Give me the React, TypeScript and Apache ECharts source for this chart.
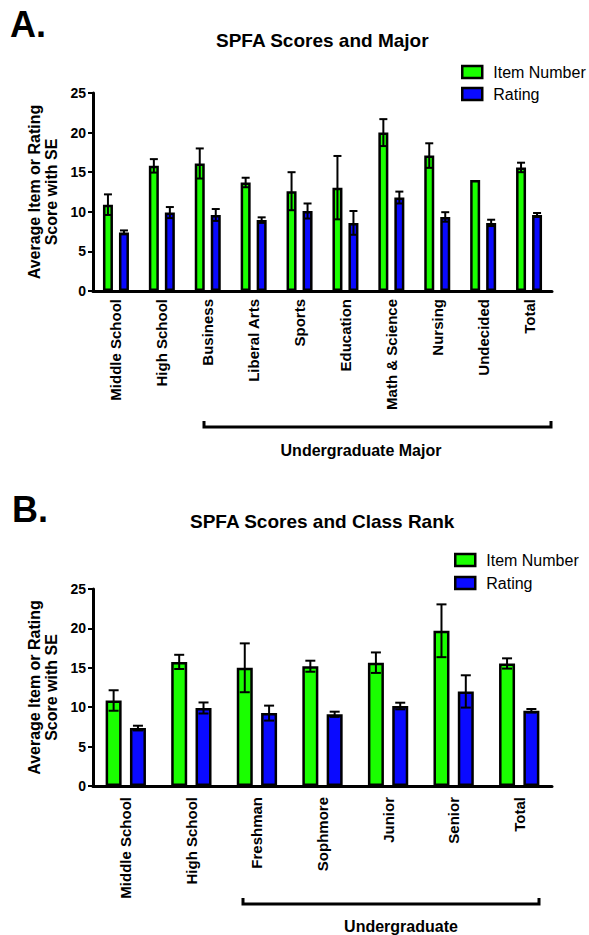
import React, { useEffect, useRef } from "react";
import * as echarts from "echarts";

// ---- Panel A data ----
const categoriesA = ["Middle School", "High School", "Business", "Liberal Arts", "Sports", "Education", "Math & Science", "Nursing", "Undecided", "Total"];
const itemA = [10.9, 15.8, 16.1, 13.7, 12.6, 13.05, 20.0, 17.1, 14.0, 15.6];
const itemSeA = [1.3, 0.85, 1.9, 0.6, 2.4, 4.0, 1.7, 1.55, 0, 0.6];
const ratingA = [7.4, 9.9, 9.6, 8.95, 10.1, 8.6, 11.8, 9.35, 8.6, 9.6];
const ratingSeA = [0.25, 0.7, 0.75, 0.35, 0.95, 1.5, 0.75, 0.6, 0.4, 0.25];

// ---- Panel B data ----
const categoriesB = ["Middle School", "High School", "Freshman", "Sophmore", "Junior", "Senior", "Total"];
const itemB = [10.85, 15.75, 15.0, 15.2, 15.65, 19.7, 15.55];
const itemSeB = [1.3, 0.9, 3.1, 0.7, 1.3, 3.35, 0.65];
const ratingB = [7.35, 9.9, 9.25, 9.1, 10.15, 12.0, 9.55];
const ratingSeB = [0.3, 0.7, 0.95, 0.33, 0.42, 2.05, 0.22];

const yTicks = [0, 5, 10, 15, 20, 25];
const seriesNames = ["Item Number", "Rating"];

const GREEN = "#1aff00";
const BLUE = "#0a0aff";
const FONT = "'Liberation Sans', Arial, Helvetica, sans-serif";

function errorSeries(axisIdx: number, values: number[], ses: number[], offset: number, cap: number) {
  return {
    type: "custom",
    xAxisIndex: axisIdx,
    yAxisIndex: axisIdx,
    silent: true,
    z: 5,
    encode: { x: 0, y: 1 },
    data: values.map((v, i) => [i, v, ses[i]]),
    renderItem: (params: any, api: any) => {
      const cat = api.value(0);
      const v = api.value(1);
      const se = api.value(2);
      if (!se) return null;
      const c = api.coord([cat, v]);
      const x = c[0] + offset;
      const yHi = api.coord([cat, v + se])[1];
      const yLo = api.coord([cat, v - se])[1];
      const st = { stroke: "#000", lineWidth: 2 };
      return {
        type: "group",
        children: [
          { type: "line", shape: { x1: x, y1: yHi, x2: x, y2: yLo }, style: st },
          { type: "line", shape: { x1: x - cap / 2, y1: yHi, x2: x + cap / 2, y2: yHi }, style: st },
          { type: "line", shape: { x1: x - cap / 2, y1: yLo, x2: x + cap / 2, y2: yLo }, style: st },
        ],
      };
    },
  };
}

function xAxisCfg(idx: number, cats: string[], margin: number) {
  return {
    type: "category",
    gridIndex: idx,
    data: cats,
    boundaryGap: true,
    axisLine: { lineStyle: { color: "#000", width: 3 } },
    axisTick: { alignWithLabel: true, length: 5, lineStyle: { color: "#000", width: 2 } },
    axisLabel: { rotate: 90, margin, color: "#000", fontWeight: "bold", fontSize: 15, fontFamily: FONT, interval: 0 },
    splitLine: { show: false },
  };
}

function yAxisCfg(idx: number) {
  return {
    type: "value",
    gridIndex: idx,
    min: yTicks[0],
    max: yTicks[yTicks.length - 1],
    interval: yTicks[1] - yTicks[0],
    name: "Average Item or Rating\nScore with SE",
    nameLocation: "middle",
    nameRotate: 90,
    nameGap: 33,
    nameTextStyle: { color: "#000", fontWeight: "bold", fontSize: 16, fontFamily: FONT, lineHeight: 17 },
    axisLine: { show: true, lineStyle: { color: "#000", width: 3 } },
    axisTick: { show: true, length: 5, lineStyle: { color: "#000", width: 2 } },
    axisLabel: { margin: 7, color: "#000", fontWeight: "bold", fontSize: 14, fontFamily: FONT },
    splitLine: { show: false },
  };
}

function barSeries(axisIdx: number, name: string, data: number[], color: string, barWidth: number, barGap?: string) {
  const s: any = {
    type: "bar",
    name,
    xAxisIndex: axisIdx,
    yAxisIndex: axisIdx,
    data,
    barWidth,
    itemStyle: { color, borderColor: "#000", borderWidth: 2.5 },
  };
  if (barGap) s.barGap = barGap;
  return s;
}

function legendCfg(left: number, top: number, itemGap: number) {
  return {
    data: seriesNames,
    orient: "vertical",
    left,
    top,
    itemWidth: 20,
    itemHeight: 12,
    itemGap,
    icon: "rect",
    selectedMode: false,
    itemStyle: { borderColor: "#000", borderWidth: 2.5 },
    textStyle: { color: "#000", fontSize: 16, fontFamily: FONT, padding: [0, 0, 0, 6] },
  };
}

export default function App() {
  const ref = useRef<HTMLDivElement>(null);
  useEffect(() => {
    document.body.style.margin = "0";
    const chart = echarts.init(ref.current!, null, { renderer: "svg" });
    const bwA = 10, gapA = 0.6;
    const bwB = 16, gapB = 0.52;
    const offA = (bwA * (1 + gapA)) / 2;
    const offB = (bwB * (1 + gapB)) / 2;
    chart.setOption({
      animation: false,
      backgroundColor: "#fff",
      title: [
        { text: "A.", left: 10, top: 6, padding: 0, textStyle: { fontSize: 36, fontWeight: "bold", color: "#000", fontFamily: FONT } },
        { text: "SPFA Scores and Major", left: 216, top: 31, padding: 0, textStyle: { fontSize: 19, fontWeight: "bold", color: "#000", fontFamily: FONT } },
        { text: "B.", left: 12, top: 491, padding: 0, textStyle: { fontSize: 36, fontWeight: "bold", color: "#000", fontFamily: FONT } },
        { text: "SPFA Scores and Class Rank", left: 190, top: 512, padding: 0, textStyle: { fontSize: 19, fontWeight: "bold", color: "#000", fontFamily: FONT } },
      ],
      legend: [legendCfg(456, 59, 6), legendCfg(449, 547, 7)],
      grid: [
        { left: 93, top: 93, width: 459, height: 198, containLabel: false },
        { left: 93, top: 589, width: 459, height: 197, containLabel: false },
      ],
      xAxis: [xAxisCfg(0, categoriesA, 8), xAxisCfg(1, categoriesB, 11)],
      yAxis: [yAxisCfg(0), yAxisCfg(1)],
      series: [
        barSeries(0, seriesNames[0], itemA, GREEN, bwA),
        barSeries(0, seriesNames[1], ratingA, BLUE, bwA, `${gapA * 100}%`),
        errorSeries(0, itemA, itemSeA, -offA, 8),
        errorSeries(0, ratingA, ratingSeA, offA, 8),
        barSeries(1, seriesNames[0], itemB, GREEN, bwB),
        barSeries(1, seriesNames[1], ratingB, BLUE, bwB, `${gapB * 100}%`),
        errorSeries(1, itemB, itemSeB, -offB, 10),
        errorSeries(1, ratingB, ratingSeB, offB, 10),
      ],
      graphic: [
        { type: "polyline", shape: { points: [[204, 421], [204, 427], [551, 427], [551, 421]] }, style: { stroke: "#000", lineWidth: 3, fill: null } },
        { type: "text", x: 361, y: 450, style: { text: "Undergraduate Major", fill: "#000", font: `bold 16px ${FONT}`, textAlign: "center", textVerticalAlign: "middle" } },
        { type: "polyline", shape: { points: [[243, 898], [243, 904], [539, 904], [539, 898]] }, style: { stroke: "#000", lineWidth: 3, fill: null } },
        { type: "text", x: 401, y: 926, style: { text: "Undergraduate", fill: "#000", font: `bold 16px ${FONT}`, textAlign: "center", textVerticalAlign: "middle" } },
      ],
    });
    return () => chart.dispose();
  }, []);
  return <div ref={ref} style={{ width: 589, height: 935, position: "absolute", left: 0, top: 0 }} />;
}
